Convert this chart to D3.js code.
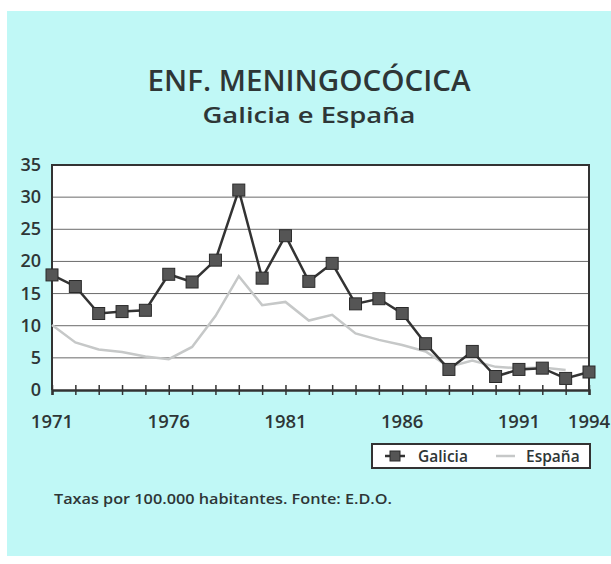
<!DOCTYPE html>
<html>
<head>
    <meta charset="utf-8">
    <title>Enf. meningocócica</title>
    <style>
        body { margin: 0; background: #fff; }
        text { font-family: "Open Sans", sans-serif; fill: #2e3636; }
        .grid line { stroke: #6a6a6a; stroke-width: 1; }
        .axis path, .axis line { stroke: #333; }
    </style>
    <script src="https://d3js.org/d3.v7.min.js"></script>
</head>
<body>
    <div id="chart"></div>
    <script>
        // rates per 100.000 inhabitants
        const years = d3.range(1971, 1995);
        const galicia = [17.9, 16.1, 11.9, 12.2, 12.4, 18.0, 16.8, 20.2, 31.1, 17.4, 24.0, 16.9,
                         19.7, 13.4, 14.2, 11.9, 7.2, 3.2, 6.0, 2.1, 3.2, 3.4, 1.8, 2.8];
        const espana = [10.1, 7.4, 6.3, 5.9, 5.2, 4.8, 6.7, 11.5, 17.7, 13.2, 13.7, 10.8,
                        11.7, 8.8, 7.8, 7.0, 6.0, 3.6, 4.6, 3.6, 3.4, 3.5, 3.1, null];
        const yTicks = [0, 5, 10, 15, 20, 25, 30, 35];
        const xLabels = [1971, 1976, 1981, 1986, 1991, 1994];

        const width = 611, height = 564;
        const margin = {top: 165, right: 22, bottom: 174, left: 52};

        const svg = d3.select("#chart").append("svg")
            .attr("width", width)
            .attr("height", height);

        // cyan panel
        svg.append("rect")
            .attr("x", 7).attr("y", 11)
            .attr("width", width - 7).attr("height", 545)
            .attr("fill", "#c0f8f6");

        const x = d3.scaleLinear().domain([1971, 1994]).range([margin.left, width - margin.right]);
        const y = d3.scaleLinear().domain([0, 35]).range([height - margin.bottom, margin.top]);

        svg.append("text")
            .attr("x", 309).attr("y", 91)
            .attr("text-anchor", "middle")
            .attr("textLength", 323).attr("lengthAdjust", "spacingAndGlyphs")
            .style("font-size", "28px").style("font-weight", 600)
            .text("ENF. MENINGOCÓCICA");
        svg.append("text")
            .attr("x", 309).attr("y", 123)
            .attr("text-anchor", "middle")
            .attr("textLength", 213).attr("lengthAdjust", "spacingAndGlyphs")
            .style("font-size", "22px").style("font-weight", 600)
            .text("Galicia e España");

        // plot background
        svg.append("rect")
            .attr("x", x(1971)).attr("y", y(35))
            .attr("width", x(1994) - x(1971)).attr("height", y(0) - y(35))
            .attr("fill", "#fff");

        // horizontal grid
        svg.append("g").attr("class", "grid")
            .selectAll("line")
            .data(yTicks.filter(d => d > 0 && d < 35))
            .join("line")
            .attr("x1", x(1971)).attr("x2", x(1994))
            .attr("y1", d => y(d)).attr("y2", d => y(d));

        // frame
        svg.append("path")
            .attr("d", `M${x(1971)},${y(0)}V${y(35)}H${x(1994)}V${y(0)}`)
            .attr("fill", "none").attr("stroke", "#333").attr("stroke-width", 2);

        // y axis labels
        svg.append("g")
            .selectAll("text")
            .data(yTicks)
            .join("text")
            .attr("x", 41).attr("y", d => y(d) + 6)
            .attr("text-anchor", "end")
            .style("font-size", "18px").style("font-weight", 600)
            .text(d => d);

        // x axis with a tick every year
        const xAxis = svg.append("g").attr("class", "axis")
            .attr("transform", `translate(0,${y(0)})`)
            .call(d3.axisBottom(x).tickValues(years).tickSize(5).tickFormat(""));
        xAxis.select(".domain").attr("stroke-width", 2.5);
        xAxis.selectAll(".tick line").attr("y1", -5).attr("stroke-width", 1.5);

        svg.append("g")
            .selectAll("text")
            .data(xLabels)
            .join("text")
            .attr("x", d => x(d)).attr("y", 428)
            .attr("text-anchor", "middle")
            .style("font-size", "18.5px").style("font-weight", 600)
            .text(d => d);

        const line = d3.line()
            .defined(d => d[1] != null)
            .x(d => x(d[0]))
            .y(d => y(d[1]));

        svg.append("path")
            .datum(years.map((yr, i) => [yr, espana[i]]))
            .attr("fill", "none")
            .attr("stroke", "#c6c8c8")
            .attr("stroke-width", 2.5)
            .attr("d", line);

        const gal = years.map((yr, i) => [yr, galicia[i]]);
        svg.append("path")
            .datum(gal)
            .attr("fill", "none")
            .attr("stroke", "#333")
            .attr("stroke-width", 2.5)
            .attr("d", line);

        svg.append("g")
            .selectAll("rect")
            .data(gal)
            .join("rect")
            .attr("x", d => x(d[0]) - 6).attr("y", d => y(d[1]) - 6)
            .attr("width", 12).attr("height", 12)
            .attr("fill", "#555")
            .attr("stroke", "#2a2a2a").attr("stroke-width", 1);

        // legend
        const lg = svg.append("g");
        lg.append("rect")
            .attr("x", 372).attr("y", 444)
            .attr("width", 218).attr("height", 24)
            .attr("fill", "#fff").attr("stroke", "#333").attr("stroke-width", 2);
        lg.append("line")
            .attr("x1", 385).attr("x2", 405).attr("y1", 456).attr("y2", 456)
            .attr("stroke", "#333").attr("stroke-width", 2.5);
        lg.append("rect")
            .attr("x", 390).attr("y", 451).attr("width", 10).attr("height", 10)
            .attr("fill", "#555").attr("stroke", "#2a2a2a");
        lg.append("text")
            .attr("x", 418).attr("y", 462)
            .style("font-size", "15.5px").style("font-weight", 600)
            .text("Galicia");
        lg.append("line")
            .attr("x1", 496).attr("x2", 515).attr("y1", 456).attr("y2", 456)
            .attr("stroke", "#c6c8c8").attr("stroke-width", 2.5);
        lg.append("text")
            .attr("x", 526).attr("y", 462)
            .style("font-size", "15.5px").style("font-weight", 600)
            .text("España");

        svg.append("text")
            .attr("x", 54).attr("y", 504)
            .attr("textLength", 338).attr("lengthAdjust", "spacingAndGlyphs")
            .style("font-size", "15px").style("font-weight", 600)
            .text("Taxas por 100.000 habitantes. Fonte: E.D.O.");
    </script>
</body>
</html>
